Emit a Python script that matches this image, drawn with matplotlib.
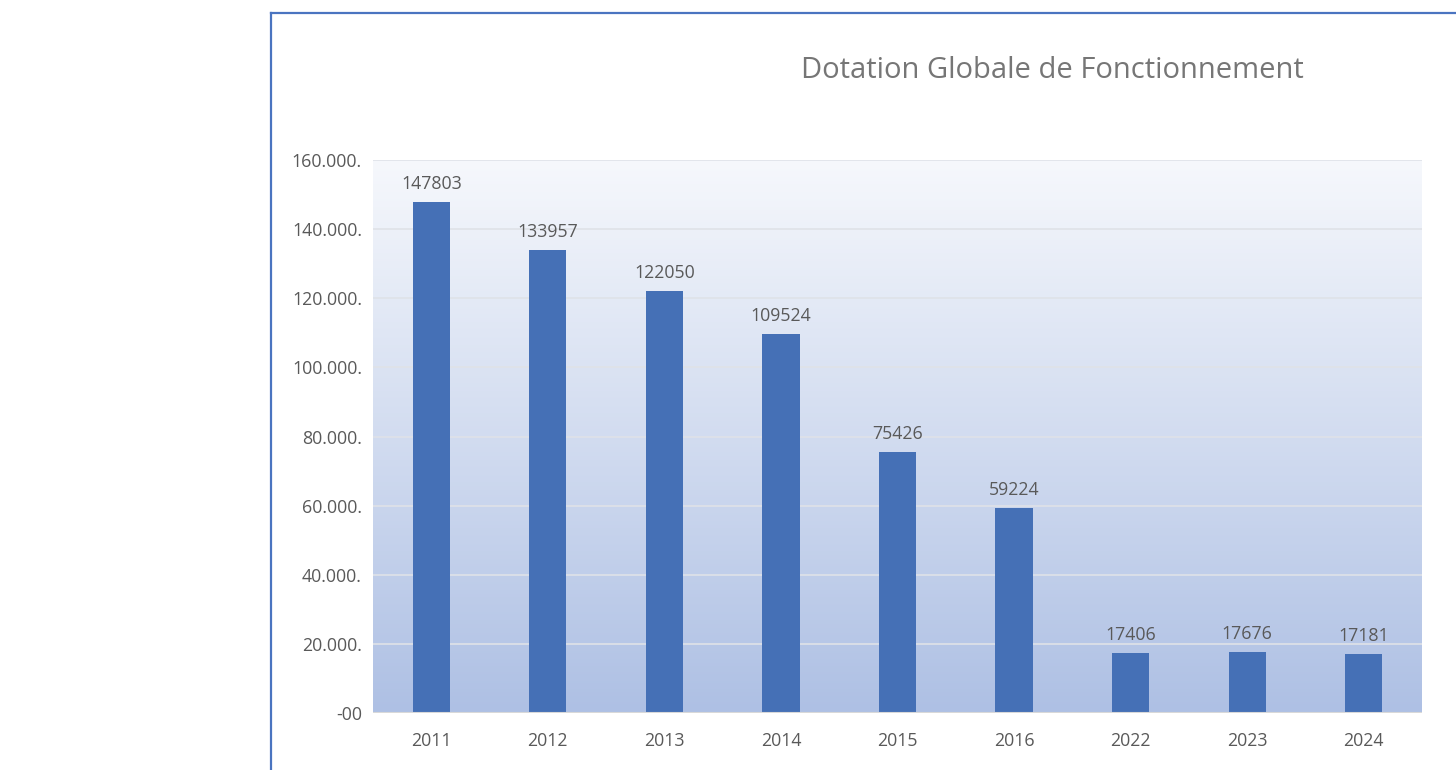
import numpy as np
import matplotlib.pyplot as plt
from matplotlib.colors import LinearSegmentedColormap
from matplotlib.lines import Line2D

plt.rcParams['font.family'] = ['Open Sans', 'DejaVu Sans']

# data
years = ["2011", "2012", "2013", "2014", "2015", "2016", "2022", "2023", "2024"]
dgf = [147803, 133957, 122050, 109524, 75426, 59224, 17406, 17676, 17181]
y_ticks = [0, 20000, 40000, 60000, 80000, 100000, 120000, 140000, 160000]
y_labels = ["-00", "20.000.", "40.000.", "60.000.", "80.000.", "100.000.",
            "120.000.", "140.000.", "160.000."]

txt = "#595959"
bar_col = "#4570b6"

fig = plt.figure(figsize=(14.56, 7.7), dpi=100)
ax = fig.add_axes([373 / 1456, 1 - 713 / 770, 1049 / 1456, 553 / 770])

x = np.arange(len(years))
ax.set_xlim(-0.5, len(years) - 0.5)
ax.set_ylim(0, 160000)

# gradient background
cmap = LinearSegmentedColormap.from_list("bg", ["#aec0e4", "#f6f8fc"])
grad = np.linspace(0, 1, 256).reshape(-1, 1)
ax.imshow(grad, extent=(-0.5, len(years) - 0.5, 0, 160000), origin="lower",
          aspect="auto", cmap=cmap, zorder=0)

for t in y_ticks[1:]:
    ax.axhline(t, color="#dfe2e8", lw=1.2, zorder=1)
ax.axhline(0, color="#d9d9d9", lw=1.5, zorder=3)

bars = ax.bar(x, dgf, width=0.32, color=bar_col, zorder=2)
for xi, v in zip(x, dgf):
    ax.text(xi, v + 2600, str(v), ha="center", va="bottom", fontsize=12.8, color=txt)

ax.set_xticks(x)
ax.set_xticklabels(years, fontsize=12.8, color=txt)
ax.set_yticks(y_ticks)
ax.set_yticklabels(y_labels, fontsize=12.8, color=txt)
ax.tick_params(length=0, pad=8)
ax.tick_params(axis="x", pad=14)
for s in ax.spines.values():
    s.set_visible(False)

fig.text(1052 / 1456, 1 - 70 / 770, "Dotation Globale de Fonctionnement",
         ha="center", va="center", fontsize=21, color="#767676")

# chart frame (top and left edges visible)
fx = 270.5 / 1456
fy = 1 - 12.5 / 770
fig.add_artist(Line2D([fx, fx], [0, fy], transform=fig.transFigure, color="#4a74c0", lw=1.6))
fig.add_artist(Line2D([fx, 1], [fy, fy], transform=fig.transFigure, color="#4a74c0", lw=1.6))

fig.savefig("out.png", dpi=100)
